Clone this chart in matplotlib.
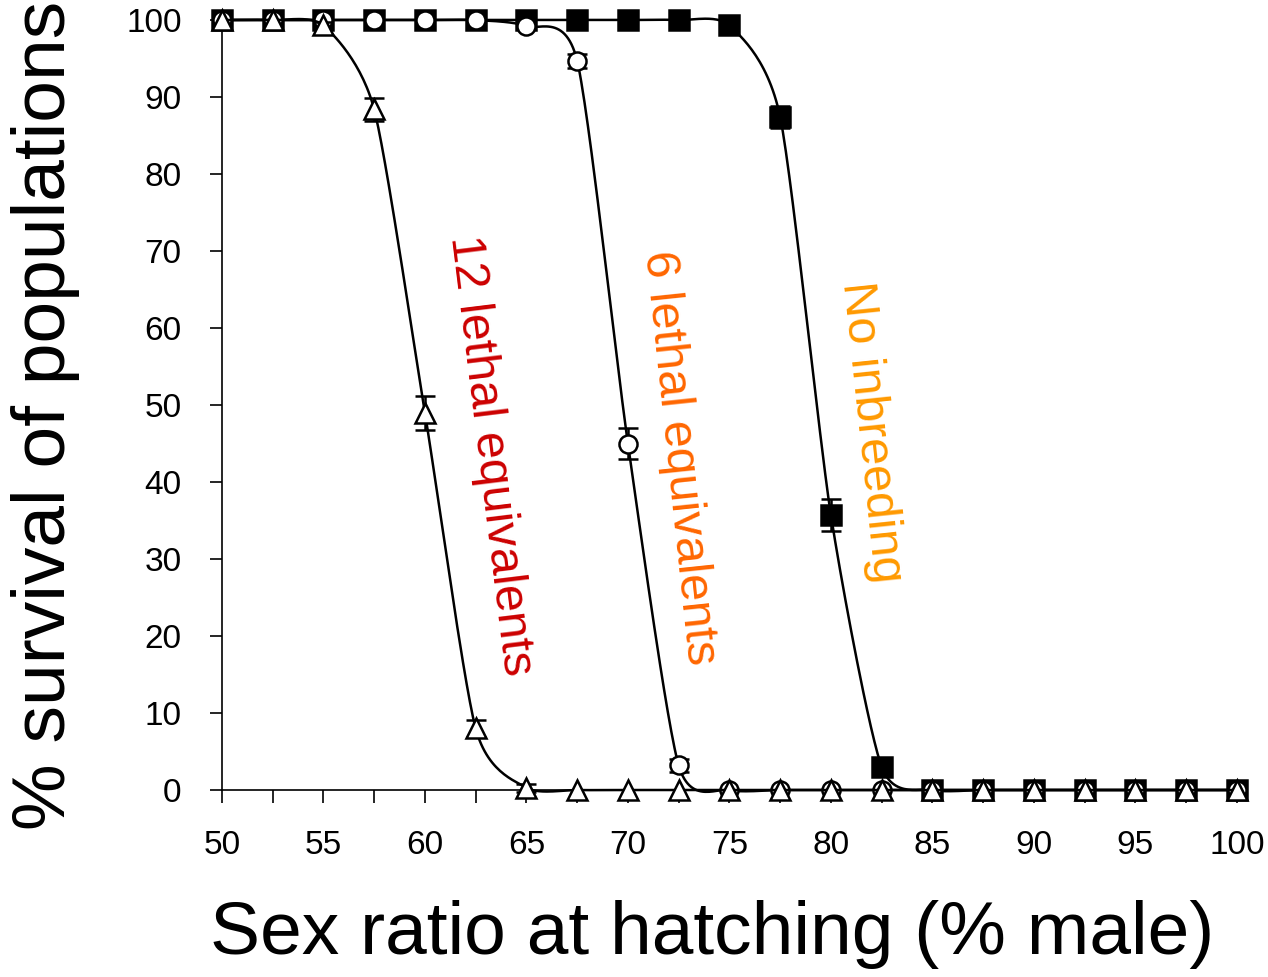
import matplotlib.pyplot as plt
import numpy as np
from matplotlib.ticker import MultipleLocator

plt.rcParams['font.family'] = ['Liberation Sans', 'DejaVu Sans']

# sex ratio at hatching (% male)
sex_ratio = [50, 52.5, 55, 57.5, 60, 62.5, 65, 67.5, 70, 72.5, 75, 77.5, 80,
             82.5, 85, 87.5, 90, 92.5, 95, 97.5, 100]

# % survival, 12 lethal equivalents (triangles)
lethal12 = [100, 100, 99.3, 88.4, 49.0, 8.0, 0.3, 0, 0, 0, 0, 0, 0, 0, 0, 0, 0, 0, 0, 0, 0]
lethal12_err = [0, 0, 0.4, 1.5, 2.2, 1.1, 0.5, 0, 0, 0, 0, 0, 0, 0, 0, 0, 0, 0, 0, 0, 0]

# % survival, 6 lethal equivalents (circles)
lethal6 = [100, 100, 100, 100, 100, 100, 99.2, 94.7, 45.0, 3.2, 0, 0, 0, 0, 0, 0, 0, 0, 0, 0, 0]
lethal6_err = [0, 0, 0, 0, 0, 0, 0.4, 0.9, 2.0, 0.8, 0, 0, 0, 0, 0, 0, 0, 0, 0, 0, 0]

# % survival, no inbreeding (squares)
no_inbr = [100, 100, 100, 100, 100, 100, 100, 100, 100, 100, 99.3, 87.4, 35.7, 3.0,
           0, 0, 0, 0, 0, 0, 0]
no_inbr_err = [0, 0, 0, 0, 0, 0, 0, 0, 0, 0, 0.4, 1.4, 2.1, 0.6, 0, 0, 0, 0, 0, 0, 0]


def smooth(x, y, n=30, k=0.7):
    # cardinal spline through the points, like a spreadsheet "smoothed line"
    x = np.asarray(x, float)
    y = np.asarray(y, float)
    px = np.concatenate([[x[0]], x, [x[-1]]])
    py = np.concatenate([[y[0]], y, [y[-1]]])
    xs, ys = [], []
    t = np.linspace(0, 1, n)
    h00 = 2 * t**3 - 3 * t**2 + 1
    h10 = t**3 - 2 * t**2 + t
    h01 = -2 * t**3 + 3 * t**2
    h11 = t**3 - t**2
    for i in range(1, len(px) - 2):
        for p, out in ((px, xs), (py, ys)):
            m1 = 0.5 * k * (p[i + 1] - p[i - 1])
            m2 = 0.5 * k * (p[i + 2] - p[i])
            out.extend(h00 * p[i] + h10 * m1 + h01 * p[i + 1] + h11 * m2)
    return np.array(xs), np.array(ys)


fig = plt.figure(figsize=(12.68, 9.77), dpi=100)
ax = fig.add_axes([0.175, 0.1914, 0.8005, 0.7881])

series = [
    (no_inbr, no_inbr_err, 's', 'black', 2, 14),
    (lethal6, lethal6_err, 'o', 'white', 3, 13),
    (lethal12, lethal12_err, '^', 'white', 4, 15),
]
for vals, err, mk, face, z, ms in series:
    sx, sy = smooth(sex_ratio, vals)
    ax.plot(sx, sy, color='black', lw=1.8, zorder=z, clip_on=False)
    e = np.array(err)
    keep = e > 0
    ax.errorbar(np.array(sex_ratio)[keep], np.array(vals)[keep], yerr=e[keep],
                fmt='none', ecolor='black', elinewidth=1.8, capsize=7,
                capthick=1.8, zorder=z, clip_on=False)
    ax.plot(sex_ratio, vals, linestyle='none', marker=mk, markersize=ms,
            markerfacecolor=face, markeredgecolor='black', markeredgewidth=1.8,
            zorder=z + 0.5, clip_on=False)

ax.set_xlim(50, 100)
ax.set_ylim(0, 100)
ax.xaxis.set_major_locator(MultipleLocator(5))
ax.xaxis.set_minor_locator(MultipleLocator(2.5))
ax.yaxis.set_major_locator(MultipleLocator(10))
for side in ['top', 'right']:
    ax.spines[side].set_visible(False)
for side in ['left', 'bottom']:
    ax.spines[side].set_linewidth(1.2)
ax.tick_params(axis='both', which='both', direction='out', length=9, width=1.2)
ax.tick_params(axis='x', which='major', labelsize=24, pad=20)
ax.tick_params(axis='y', which='major', labelsize=24, pad=20)

fig.text(0.036, 0.575, '% survival of populations', rotation=90, fontsize=54,
         ha='center', va='center')
fig.text(0.562, 0.043, 'Sex ratio at hatching (% male)', fontsize=54,
         ha='center', va='center')

ax.text(63.2, 43.5, '12 lethal equivalents', rotation=-83, color='#CC0000',
        fontsize=35, ha='center', va='center', rotation_mode='anchor')
ax.text(72.5, 43.2, '6 lethal equivalents', rotation=-84, color='#FF6600',
        fontsize=35, ha='center', va='center', rotation_mode='anchor')
ax.text(82.0, 46.5, 'No inbreeding', rotation=-84, color='#FF9900',
        fontsize=35, ha='center', va='center', rotation_mode='anchor')

fig.savefig('out.png', dpi=100)
